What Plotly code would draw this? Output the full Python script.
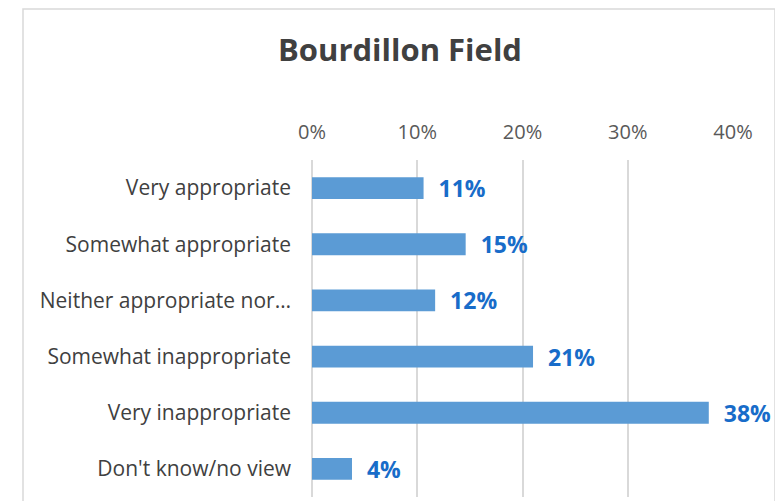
import plotly.graph_objects as go

categories = ["Very appropriate", "Somewhat appropriate", "Neither appropriate nor…",
              "Somewhat inappropriate", "Very inappropriate", "Don't know/no view"]
values = [10.6, 14.6, 11.7, 21.0, 37.7, 3.8]
tick_vals = [0, 10, 20, 30, 40]
tick_text = ["0%", "10%", "20%", "30%", "40%"]

W, H = 783, 501
OFF = 8  # page body margin
L, R, T, B = 312 - OFF, 783 - 733 + OFF, 160 - OFF, 501 - 497 + OFF
pw, ph = W - L - R, H - T - B

fig = go.Figure(go.Bar(
    x=values, y=categories, orientation="h",
    marker=dict(color="#5B9BD5", line=dict(width=0)),
    width=0.39,
    texttemplate="\u00a0\u00a0%{x:.0f}%", textposition="outside", constraintext="none",
    textfont=dict(family="Open Sans", size=23, color="#186CC9", weight="bold"),
    cliponaxis=False,
))

def px(x):
    return (x - OFF - L) / pw

def py(y):
    return (H - B - (y - OFF)) / ph

fig.update_layout(
    width=W, height=H,
    margin=dict(l=L, r=R, t=T, b=B),
    paper_bgcolor="white", plot_bgcolor="white",
    showlegend=False,
    title=dict(text="<b>Bourdillon Field</b>", x=(400 - OFF) / W, xanchor="center",
               y=1 - (50 - OFF) / H, yanchor="middle",
               font=dict(family="Open Sans", size=31, color="#404040")),
    xaxis=dict(side="top", range=[0, 40], tickvals=tick_vals, ticktext=tick_text,
               showgrid=True, gridcolor="#D9D9D9", gridwidth=1.5,
               zeroline=True, zerolinecolor="#D9D9D9", zerolinewidth=1.5,
               showline=False, ticks="", ticklabelstandoff=16,
               tickfont=dict(family="Open Sans", size=20, color="#595959")),
    yaxis=dict(autorange="reversed", showgrid=False, zeroline=False, ticks="",
               showline=False, ticklabelstandoff=20,
               tickfont=dict(family="Open Sans", size=21, color="#404040")),
    shapes=[dict(type="rect", xref="paper", yref="paper",
                 x0=px(23), x1=px(775), y0=py(510), y1=py(9),
                 line=dict(color="#D9D9D9", width=1.5), fillcolor="rgba(0,0,0,0)", layer="below")],
)

fig.write_html("out.html")
